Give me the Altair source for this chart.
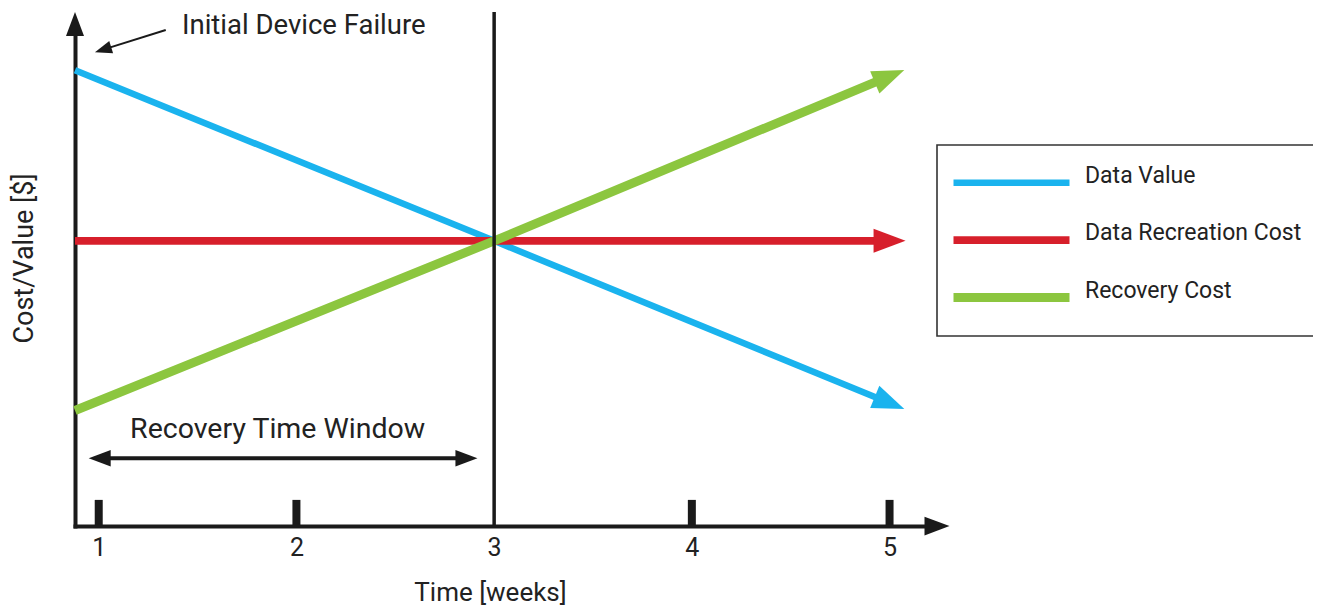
import altair as alt
import pandas as pd

# ---- data ----
weeks = [0.88, 3.0, 5.0]
data_value = [90.8, 56.8, 24.5]
data_recreation_cost = [56.8, 56.8, 56.8]
recovery_cost = [23.0, 56.8, 89.6]

series_names = ["Data Value", "Data Recreation Cost", "Recovery Cost"]
series_colors = ["#1ab3ee", "#d71f2b", "#8cc63f"]
line_widths = [6.5, 9, 6.5]
head_angles = [22.4, 0, 337.4]

tick_weeks = [1, 2, 4, 5]
label_weeks = [1, 2, 3, 4, 5]
failure_week = [3]

x_domain = [0.88, 5.24]
y_domain = [0, 100]

# annotations
failure_text = ["Initial Device Failure"]
failure_text_pos = [1.421, 99.6]
failure_arrow_x = [1.339, 1.022]
failure_arrow_y = [98.8, 94.9]
failure_arrow_angle = 162.6

window_text = ["Recovery Time Window"]
window_text_pos = [1.905, 19.4]
window_x = [1.005, 2.86]
window_y = 13.5

# ---- tables ----
line_df = pd.DataFrame({
    "week": weeks * 3,
    "value": data_value + data_recreation_cost + recovery_cost,
    "series": [series_names[0]] * 3 + [series_names[1]] * 3 + [series_names[2]] * 3,
})
heads_df = pd.DataFrame({
    "week": [weeks[-1]] * 3,
    "value": [data_value[-1], data_recreation_cost[-1], recovery_cost[-1]],
    "series": series_names,
    "angle": head_angles,
})
axis_heads_df = pd.DataFrame({
    "week": [x_domain[1], x_domain[0]],
    "value": [y_domain[0], y_domain[1]],
    "angle": [0, 270],
    "size": [625, 576],
})
ticks_df = pd.DataFrame({"week": tick_weeks})
vline_df = pd.DataFrame({"week": failure_week})
fail_line_df = pd.DataFrame({"week": failure_arrow_x, "value": failure_arrow_y})
fail_head_df = pd.DataFrame({"week": [failure_arrow_x[1]], "value": [failure_arrow_y[1]], "angle": [failure_arrow_angle]})
fail_text_df = pd.DataFrame({"week": [failure_text_pos[0]], "value": [failure_text_pos[1]], "text": failure_text})
win_line_df = pd.DataFrame({"week": window_x, "value": [window_y, window_y]})
win_head_df = pd.DataFrame({"week": window_x, "value": [window_y, window_y], "angle": [180, 0]})
win_text_df = pd.DataFrame({"week": [window_text_pos[0]], "value": [window_text_pos[1]], "text": window_text})

ARROW = "M1,0L-1,-0.75L-1,0.75Z"
INK = "#1a1a1a"
TXT = "#222222"
FONT = "Roboto"

xs = alt.Scale(domain=x_domain, nice=False, zero=False)
ys = alt.Scale(domain=y_domain, nice=False, zero=False)
color_scale = alt.Scale(domain=series_names, range=series_colors)

x_axis = alt.Axis(values=label_weeks, ticks=False, grid=False, domain=True, domainWidth=4,
                  domainColor=INK, domainCap="square", labelFont=FONT, labelFontSize=25,
                  labelColor=TXT, labelPadding=9, format="d", title="Time [weeks]",
                  titleFont=FONT, titleFontSize=26, titleFontWeight="normal", titleColor=TXT,
                  titleX=415, titleY=66, titleBaseline="middle", titleAlign="center")
y_axis = alt.Axis(labels=False, ticks=False, grid=False, domain=True, domainWidth=4,
                  domainColor=INK, domainCap="square", title="Cost/Value [$]",
                  titleFont=FONT, titleFontSize=27, titleFontWeight="normal", titleColor=TXT,
                  titleAngle=270, titleX=-51, titleY=234, titleAlign="center", titleBaseline="middle")

X = alt.X("week:Q", scale=xs, axis=x_axis)
Y = alt.Y("value:Q", scale=ys, axis=y_axis)
Xn = alt.X("week:Q", scale=xs)
Yn = alt.Y("value:Q", scale=ys)

lines = alt.Chart(line_df).mark_line(strokeCap="butt").encode(
    x=X, y=Y,
    color=alt.Color("series:N", scale=color_scale, sort=series_names,
                    legend=alt.Legend(title=None, orient="none", legendX=862, legendY=121,
                                      direction="vertical", symbolType="stroke",
                                      symbolSize=13456, symbolStrokeWidth=9, clipHeight=51.6,
                                      rowPadding=5.4, padding=12, labelOffset=11,
                                      labelFont=FONT, labelFontSize=23, labelColor=TXT,
                                      labelBaseline="alphabetic", labelLimit=400,
                                      strokeColor="#333333")),
    strokeWidth=alt.StrokeWidth("series:N", scale=alt.Scale(domain=series_names, range=line_widths), legend=None),
)

heads = alt.Chart(heads_df).mark_point(shape=ARROW, filled=True, size=1024, strokeWidth=0, opacity=1).encode(
    x=Xn, y=Yn,
    color=alt.Color("series:N", scale=color_scale, legend=None),
    angle=alt.Angle("angle:Q", scale=None),
)

vline = alt.Chart(vline_df).mark_rule(color=INK, strokeWidth=3.5).encode(
    x=Xn, y=alt.datum(0), y2=alt.datum(102.4))

ticks = alt.Chart(ticks_df).mark_rule(color=INK, strokeWidth=8).encode(
    x=Xn, y=alt.datum(0), y2=alt.datum(5.2))

axis_heads = alt.Chart(axis_heads_df).mark_point(shape=ARROW, filled=True, color=INK, strokeWidth=0, opacity=1).encode(
    x=Xn, y=Yn, angle=alt.Angle("angle:Q", scale=None), size=alt.Size("size:Q", scale=None))

fail_line = alt.Chart(fail_line_df).mark_line(color=INK, strokeWidth=2).encode(x=Xn, y=Yn)
fail_head = alt.Chart(fail_head_df).mark_point(shape=ARROW, filled=True, color=INK, size=289, strokeWidth=0, opacity=1).encode(
    x=Xn, y=Yn, angle=alt.Angle("angle:Q", scale=None))
fail_text = alt.Chart(fail_text_df).mark_text(align="left", baseline="middle", font=FONT, fontSize=27.5, color=TXT).encode(
    x=Xn, y=Yn, text="text:N")

win_line = alt.Chart(win_line_df).mark_line(color=INK, strokeWidth=4).encode(x=Xn, y=Yn)
win_head = alt.Chart(win_head_df).mark_point(shape=ARROW, filled=True, color=INK, size=484, strokeWidth=0, opacity=1).encode(
    x=Xn, y=Yn, angle=alt.Angle("angle:Q", scale=None))
win_text = alt.Chart(win_text_df).mark_text(align="center", baseline="middle", font=FONT, fontSize=28.5, color=TXT).encode(
    x=Xn, y=Yn, text="text:N")

chart = alt.layer(
    lines, heads, vline, ticks, axis_heads, fail_line, fail_head, fail_text, win_line, win_head, win_text
).properties(
    width=862, height=502,
    autosize=alt.AutoSizeParams(type="none"),
    padding={"left": 67, "top": 16, "right": 376, "bottom": 80},
    background="white",
).configure_view(stroke=None).configure_legend(strokeWidth=1.6)

chart.save("out.html", embed_options={"renderer": "svg", "actions": False})
